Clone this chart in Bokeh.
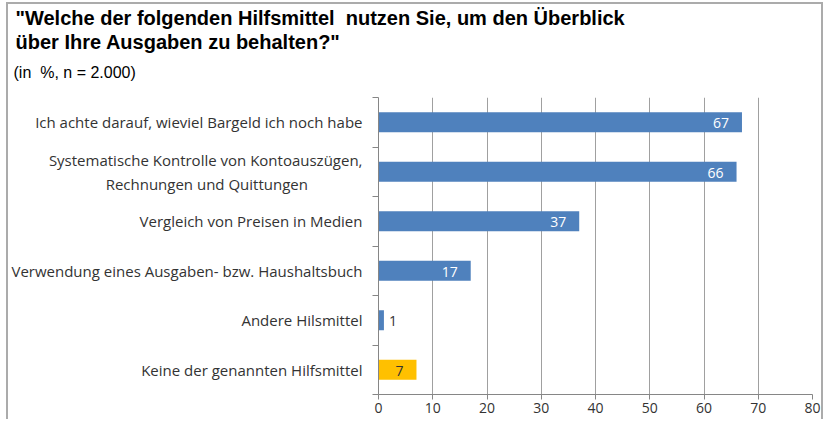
from bokeh.plotting import figure
from bokeh.models import Range1d, FixedTicker, Title
from bokeh.core.properties import value
from bokeh.embed import file_html
from bokeh.resources import INLINE

categories = [
    "Ich achte darauf, wieviel Bargeld ich noch habe",
    "Systematische Kontrolle von Kontoauszügen,\nRechnungen und Quittungen" + "\u00a0" * 14,
    "Vergleich von Preisen in Medien",
    "Verwendung eines Ausgaben- bzw. Haushaltsbuch",
    "Andere Hilsmittel",
    "Keine der genannten Hilfsmittel",
]
values = [67, 66, 37, 17, 1, 7]
bar_colors = ["#4F81BD", "#4F81BD", "#4F81BD", "#4F81BD", "#4F81BD", "#FFC000"]
x_ticks = [0, 10, 20, 30, 40, 50, 60, 70, 80]
title_lines = ['"Welche der folgenden Hilfsmittel\u00a0 nutzen Sie, um den Überblick',
               'über Ihre Ausgaben zu behalten?"']
subtitle = "(in\u00a0 %, n = 2.000)"

n = len(categories)
ypos = [n - 1 - i for i in range(n)]
FRAME_LEFT = 369
BORDER = "2px solid #ababab"

p = figure(width=817, height=417, output_backend="svg", toolbar_location=None,
           x_range=Range1d(0, 80), y_range=Range1d(-0.5, n - 0.5),
           min_border_left=FRAME_LEFT, min_border_right=13, min_border_top=0, min_border_bottom=27,
           styles={"margin-left": "6px", "margin-top": "2px", "border-top": BORDER,
                   "border-left": BORDER, "border-right": BORDER})
p.outline_line_color = None
p.background_fill_color = "white"
p.border_fill_color = "white"

label_colors = ["white", "white", "white", "white", "#333333", "#333333"]
inside = [v >= 5 for v in values]

p.hbar(y=ypos, right=values, left=0, height=0.4, fill_color=bar_colors, line_color=None)

src_in = dict(x=[v for v, k in zip(values, inside) if k],
              y=[y for y, k in zip(ypos, inside) if k],
              t=[str(v) for v, k in zip(values, inside) if k],
              c=[c for c, k in zip(label_colors, inside) if k])
src_out = dict(x=[v for v, k in zip(values, inside) if not k],
               y=[y for y, k in zip(ypos, inside) if not k],
               t=[str(v) for v, k in zip(values, inside) if not k])
p.text(x="x", y="y", text="t", source=src_in, text_color="c", text_align="right",
       text_baseline="middle", x_offset=-13, y_offset=1, text_font_size="14px",
       text_font=value("Open Sans"))
p.text(x="x", y="y", text="t", source=src_out, text_color="#333333", text_align="left",
       text_baseline="middle", x_offset=5, y_offset=1, text_font_size="14px",
       text_font=value("Open Sans"))

# x axis
p.xaxis.ticker = FixedTicker(ticks=x_ticks)
p.xaxis.major_tick_out = 5
p.xaxis.major_tick_in = 0
p.xaxis.minor_tick_out = 0
p.xaxis.minor_tick_in = 0
p.xaxis.minor_tick_line_color = None
p.xaxis.axis_line_color = "#868686"
p.xaxis.major_tick_line_color = "#868686"
p.xaxis.major_label_text_font = "Open Sans"
p.xaxis.major_label_text_font_size = "14px"
p.xaxis.major_label_text_color = "#333333"
p.xaxis.major_label_standoff = 3

# y axis
p.yaxis.ticker = FixedTicker(ticks=ypos, minor_ticks=[y - 0.5 for y in range(n + 1)])
p.yaxis.major_label_overrides = {y: c for y, c in zip(ypos, categories)}
p.yaxis.major_tick_out = 0
p.yaxis.major_tick_in = 0
p.yaxis.minor_tick_out = 6
p.yaxis.minor_tick_in = 0
p.yaxis.minor_tick_line_color = "#868686"
p.yaxis.axis_line_color = "#868686"
p.yaxis.major_label_text_font = "Open Sans"
p.yaxis.major_label_text_font_size = "15px"
p.yaxis.major_label_text_color = "#333333"
p.yaxis.major_label_standoff = 10

p.xgrid.ticker = FixedTicker(ticks=x_ticks)
p.xgrid.grid_line_color = "#a0a0a0"
p.ygrid.grid_line_color = None

# titles (added from the frame outward)
p.add_layout(Title(text="\u00a0", align="left", standoff=4, text_font_size="1px",
                   text_color="white"), "above")
p.add_layout(Title(text=subtitle, align="left", offset=4 - FRAME_LEFT, standoff=19,
                   text_font="Liberation Sans", text_font_style="normal",
                   text_font_size="16px", text_color="black"), "above")
p.add_layout(Title(text=title_lines[1], align="left", offset=6 - FRAME_LEFT, standoff=0,
                   text_font="Liberation Sans", text_font_style="bold",
                   text_font_size="20px", text_color="black"), "above")
p.add_layout(Title(text=title_lines[0], align="left", offset=6 - FRAME_LEFT, standoff=0,
                   text_font="Liberation Sans", text_font_style="bold",
                   text_font_size="20px", text_color="black"), "above")

open("out.html", "w").write(file_html(p, INLINE))
